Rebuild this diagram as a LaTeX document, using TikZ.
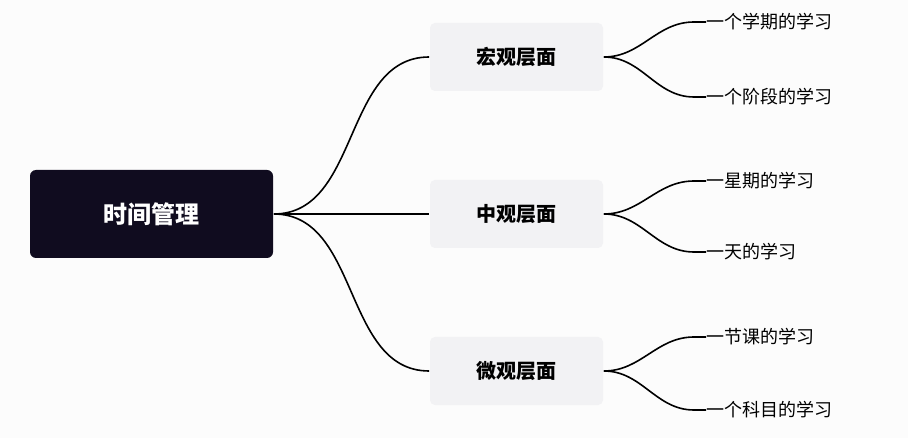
\documentclass[tikz,border=0pt]{standalone}
\usepackage{fontspec}
\setmainfont{Noto Sans CJK SC}
\usetikzlibrary{positioning}
\definecolor{rootbg}{HTML}{100C1F}
\definecolor{midbg}{HTML}{F2F2F4}
\definecolor{pagebg}{HTML}{FCFCFC}
\begin{document}
\begin{tikzpicture}[x=1pt,y=-1pt,line width=1.6pt]
\tikzstyle{root}=[rectangle,fill=rootbg,rounded corners=6pt,text=white,font=\fontsize{24}{28}\selectfont\bfseries,minimum width=243pt,minimum height=88pt]
\tikzstyle{mid}=[rectangle,fill=midbg,rounded corners=5pt,font=\fontsize{20}{24}\selectfont\bfseries,minimum width=173pt,minimum height=68pt]
\tikzstyle{leaf}=[anchor=west,inner sep=0pt,font=\fontsize{18}{22}\selectfont]
\tikzstyle{link}=[draw,out=0,in=180]
\fill[pagebg] (0,0) rectangle (908,438);
\useasboundingbox (0,0) rectangle (908,438);

% Root and levels
\node[root] (T) at (151.5,214) {时间管理};
\node[mid] (M1) at (516.5,57) {宏观层面};
\node[mid] (M2) at (516.5,214) {中观层面};
\node[mid] (M3) at (516.5,371) {微观层面};

% Leaves
\node[leaf] (L1) at (706,22) {一个学期的学习};
\node[leaf] (L2) at (706,97) {一个阶段的学习};
\node[leaf] (L3) at (706,181) {一星期的学习};
\node[leaf] (L4) at (706,252) {一天的学习};
\node[leaf] (L5) at (706,337) {一节课的学习};
\node[leaf] (L6) at (706,410) {一个科目的学习};

% Branches
\foreach \m in {M1,M2,M3}
  \draw[link] (T.east) to (\m.west);
\foreach \m/\a/\b in {M1/L1/L2,M2/L3/L4,M3/L5/L6}{
  \draw[link] (\m.east) to ([xshift=-12pt]\a.west) -- (\a.west);
  \draw[link] (\m.east) to ([xshift=-12pt]\b.west) -- (\b.west);
}
\end{tikzpicture}
\end{document}
